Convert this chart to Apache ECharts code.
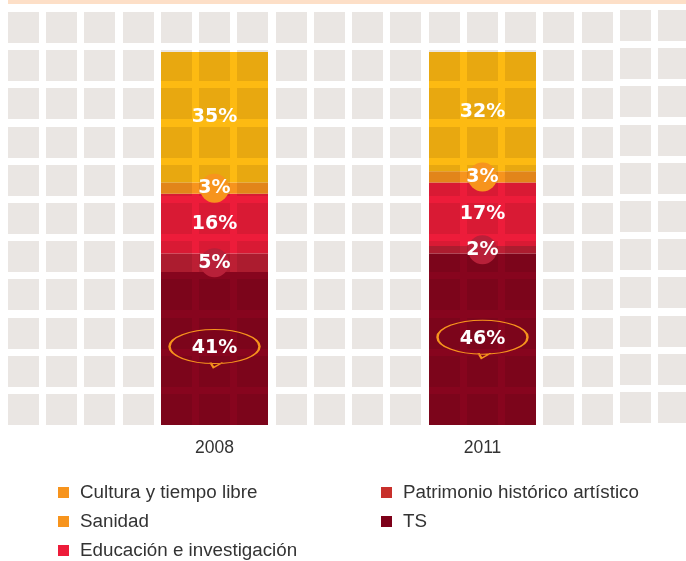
<!DOCTYPE html>
<html>
<head>
<meta charset="utf-8">
<script src="https://cdn.jsdelivr.net/npm/echarts@6/dist/echarts.min.js"></script>
<style>
  html, body { margin: 0; padding: 0; background: #ffffff; }
  #chart { width: 686px; height: 561px; }
</style>
</head>
<body>
<div id="chart"></div>
<script>
// Years on the category axis
const years = ['2008', '2011'];

// Shares (%) per year, listed from the bottom of the stack upwards
const ts = [41, 46];
const patrimonio = [5, 2];
const educacion = [16, 17];
const sanidad = [3, 3];
const cultura = [35, 32];

// Legend order (two columns)
const legendLeft = ['Cultura y tiempo libre', 'Sanidad', 'Educación e investigación'];
const legendRight = ['Patrimonio histórico artístico', 'TS'];

// Segment definitions, bottom to top
const segments = [
  { name: 'TS', values: ts, bar: '#87051E', key: '#7D0019', mark: 'ellipse' },
  { name: 'Patrimonio histórico artístico', values: patrimonio, bar: '#BC1F34', key: '#C8302B', mark: 'disc', disc: '#B82039' },
  { name: 'Educación e investigación', values: educacion, bar: '#ED1C3A', key: '#ED1C3A', mark: 'none' },
  { name: 'Sanidad', values: sanidad, bar: '#F7941D', key: '#F7941D', mark: 'disc', disc: '#F7941D' },
  { name: 'Cultura y tiempo libre', values: cultura, bar: '#FDBA12', key: '#F7941D', mark: 'none' }
];

const keyColor = {};
segments.forEach(s => { keyColor[s.name] = s.key; });

// Bars
const barSeries = segments.map(s => ({
  name: s.name,
  type: 'bar',
  stack: 'total',
  barWidth: 107,
  z: 2,
  itemStyle: { color: s.bar },
  emphasis: { disabled: true },
  data: s.values
}));

// Value labels with their badges, placed at the middle of each segment
const ellipsePath = 'path://M0,17 A45,17 0 1 1 90,17 A45,17 0 1 1 0,17 Z M41,33 L44,38 L53,33';
const labelData = [];
years.forEach((yr, i) => {
  let base = 0;
  segments.forEach(s => {
    const v = s.values[i];
    const mid = base + v / 2;
    base += v;
    const item = { value: [i, mid, v] };
    if (s.mark === 'disc') {
      item.symbol = 'circle';
      item.symbolSize = 29;
      item.itemStyle = { color: s.disc, opacity: 1 };
    } else if (s.mark === 'ellipse') {
      item.symbol = ellipsePath;
      item.symbolSize = [90, 38];
      item.itemStyle = { color: 'rgba(0,0,0,0)', borderColor: '#F7941D', borderWidth: 1.6, opacity: 1 };
    } else {
      item.symbol = 'circle';
      item.symbolSize = 2;
      item.itemStyle = { color: 'rgba(0,0,0,0)', opacity: 1 };
    }
    labelData.push(item);
  });
});

// Background tile grid (multiplied over the bars so they show the pattern too)
const tiles = [];
for (let c = 0; c < 18; c++) {
  for (let r = 0; r < 11; r++) {
    tiles.push({
      type: 'rect',
      z: 3,
      silent: true,
      shape: {
        x: Math.round(8 + c * 38.24),
        y: Math.round(12 + r * 38.2) - (c >= 16 ? 2 : 0),
        width: 31,
        height: 31
      },
      style: { fill: '#EAE6E3', blend: 'multiply' }
    });
  }
}
tiles.push({
  type: 'rect', z: 3, silent: true,
  shape: { x: 8, y: 0, width: 678, height: 4 },
  style: { fill: '#FDDFC7' }
});

const legendText = { color: '#333333', fontSize: 18.8, fontFamily: 'Liberation Sans, Arial, sans-serif', lineHeight: 18, padding: [0, 0, 0, 6] };

const chart = echarts.init(document.getElementById('chart'), null, { renderer: 'canvas' });
chart.setOption({
  backgroundColor: '#ffffff',
  animation: false,
  graphic: tiles,
  legend: [
    {
      orient: 'vertical', left: 58, top: 483, height: 100, itemWidth: 11, itemHeight: 11, itemGap: 10,
      icon: 'rect', selectedMode: false, padding: 0, textStyle: legendText,
      data: legendLeft.map(n => ({ name: n, itemStyle: { color: keyColor[n] } }))
    },
    {
      orient: 'vertical', left: 381, top: 483, height: 100, itemWidth: 11, itemHeight: 11, itemGap: 10,
      icon: 'rect', selectedMode: false, padding: 0, textStyle: legendText,
      data: legendRight.map(n => ({ name: n, itemStyle: { color: keyColor[n] } }))
    }
  ],
  grid: { left: 80.5, right: 69.5, top: 52, bottom: 136, containLabel: false },
  xAxis: {
    type: 'category',
    data: years,
    axisLine: { show: false },
    axisTick: { show: false },
    axisLabel: { color: '#333333', fontSize: 17.5, fontFamily: 'Liberation Sans, Arial, sans-serif', margin: 14 }
  },
  yAxis: { type: 'value', min: 0, max: 100, show: false },
  series: barSeries.concat([{
    name: 'labels',
    type: 'scatter',
    z: 5,
    silent: true,
    itemStyle: { opacity: 1 },
    data: labelData,
    label: {
      show: true,
      position: 'inside',
      color: '#ffffff',
      opacity: 1,
      fontFamily: 'DejaVu Sans, sans-serif',
      fontWeight: 'bold',
      fontSize: 19,
      formatter: p => p.value[2] + '%'
    }
  }])
});
</script>
</body>
</html>
